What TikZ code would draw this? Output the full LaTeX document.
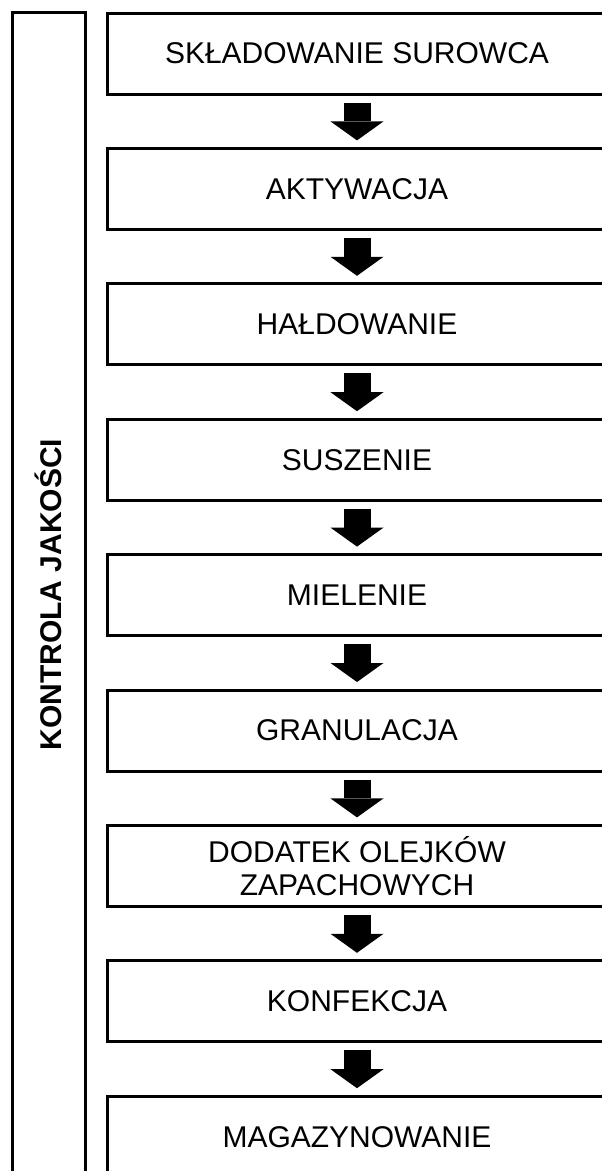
\documentclass[tikz,border=0pt]{standalone}
\usepackage{fontspec}
\setmainfont{Liberation Sans}
\usetikzlibrary{positioning,arrows.meta}

\tikzset{
  stage/.style={draw,line width=3pt,minimum width=500pt,minimum height=81pt,
    inner sep=0pt,outer sep=0pt,align=center,
    font=\fontsize{30}{33}\selectfont},
  flow/.style={line width=27pt,
    -{Triangle[length=19pt,width=53pt,line width=0pt]},
    shorten <=8.5pt,shorten >=8pt},
  qcbar/.style={draw,line width=3pt,rotate=90,minimum width=1165pt,
    minimum height=73pt,outer sep=0pt,
    font=\bfseries\fontsize{30}{33}\selectfont}
}

\begin{document}
\begin{tikzpicture}[x=1pt,y=-1pt,node distance=54.4pt]
  \useasboundingbox (0,0) rectangle (602,1171);
  \node[stage] at (357,53.5) (s1) {SKŁADOWANIE SUROWCA};
  \node[stage,below=of s1] (s2) {AKTYWACJA};
  \node[stage,below=of s2] (s3) {HAŁDOWANIE};
  \node[stage,below=of s3] (s4) {SUSZENIE};
  \node[stage,below=of s4] (s5) {MIELENIE};
  \node[stage,below=of s5] (s6) {GRANULACJA};
  \node[stage,below=of s6] (s7) {DODATEK OLEJKÓW\\ZAPACHOWYCH};
  \node[stage,below=of s7] (s8) {KONFEKCJA};
  \node[stage,below=of s8] (s9) {MAGAZYNOWANIE};
  % quality control runs along the whole line
  \node[qcbar] at (48.6,594.6) (qc) {KONTROLA JAKOŚCI};
  \foreach \a/\b in {s1/s2,s2/s3,s3/s4,s4/s5,s5/s6,s6/s7,s7/s8,s8/s9}
    \draw[flow] (\a) -- (\b);
\end{tikzpicture}
\end{document}
